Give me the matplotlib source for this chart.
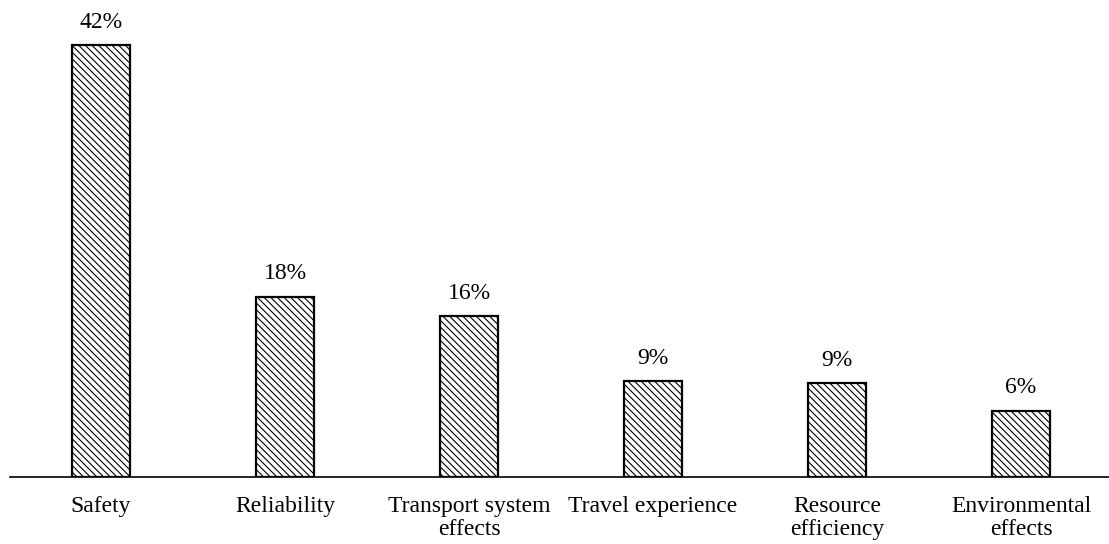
import matplotlib
matplotlib.use("Agg")
from matplotlib import pyplot as plt

categories = ["Safety", "Reliability", "Transport system\neffects", "Travel experience",
              "Resource\nefficiency", "Environmental\neffects"]
values = [42.0, 17.5, 15.6, 9.3, 9.1, 6.4]
value_labels = ["42%", "18%", "16%", "9%", "9%", "6%"]

plt.rcParams['font.family'] = ['Liberation Serif', 'DejaVu Serif']
plt.rcParams['hatch.linewidth'] = 0.8
plt.rcParams['hatch.color'] = '#404040'

fig = plt.figure(figsize=(11.09, 5.44), dpi=100)
ax = fig.add_axes([0.009, 0.124, 0.991, 0.876])

x = list(range(len(categories)))
bars = ax.bar(x, values, width=0.315, color='white', edgecolor='black',
              linewidth=1.6, hatch='\\' * 5, zorder=2)
for b, lab in zip(bars, value_labels):
    ax.annotate(lab, (b.get_x() + b.get_width() / 2, b.get_height()),
                xytext=(0, 9), textcoords='offset points',
                ha='center', va='bottom', fontsize=17)

ax.set_xlim(-0.495, 5.478)
ax.set_ylim(0, 46.4)
ax.set_xticks(x)
ax.set_xticklabels(categories, fontsize=17, linespacing=1.1)
ax.tick_params(axis='x', length=0, pad=14)
ax.set_yticks([])
for s in ['top', 'right', 'left']:
    ax.spines[s].set_visible(False)
ax.spines['bottom'].set_linewidth(1.2)

fig.savefig("out.png", dpi=100)
